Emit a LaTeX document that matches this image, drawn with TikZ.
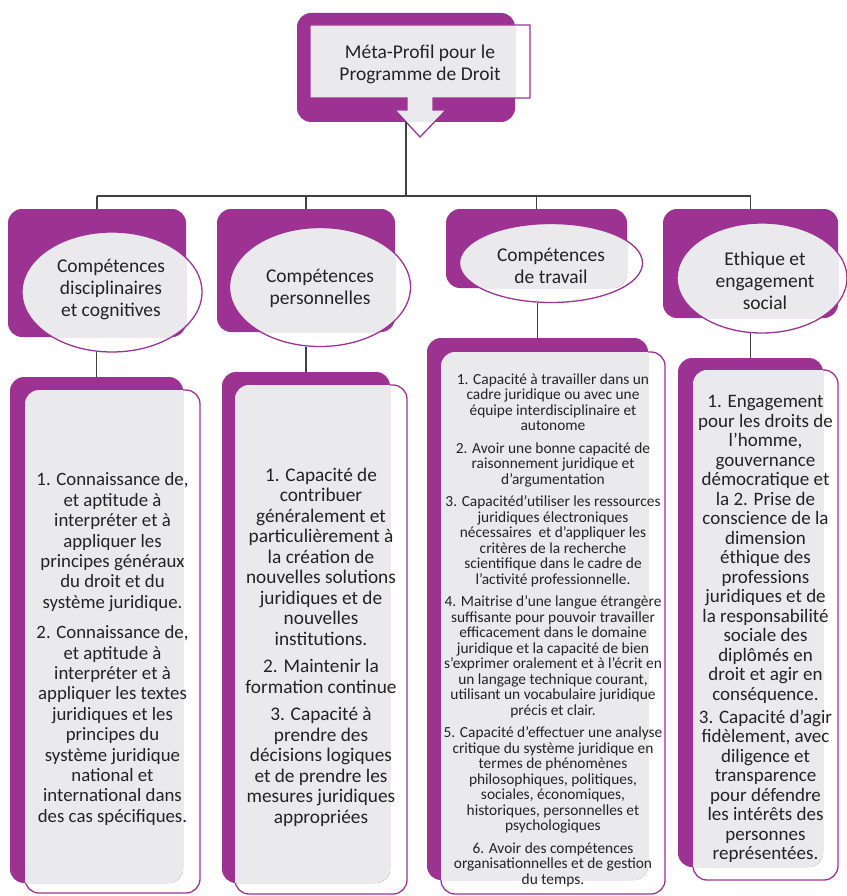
\documentclass[tikz,border=0pt]{standalone}
\usepackage{fontspec}
\setmainfont{Carlito}
\usetikzlibrary{shapes.geometric}
\definecolor{prune}{RGB}{156,50,146}
\definecolor{gris}{RGB}{234,234,236}
\definecolor{encre}{RGB}{35,35,35}
\definecolor{trait}{RGB}{64,64,64}
\newcommand{\titre}{\fontsize{19.5}{22}\selectfont}
\newcommand{\metaforme}{(310,25) -- (530,25) -- (530,98) -- (433,98) -- (433,110) -- (446,110) -- (420,137) -- (395,110) -- (407,110) -- (407,98) -- (310,98) -- cycle}
\tikzset{
  fond/.style={fill=prune, rounded corners=14pt, inner sep=0pt, outer sep=0pt},
  cadre/.style={draw=prune, line width=1.3pt, rounded corners=14pt, inner sep=0pt, outer sep=0pt},
  bulle/.style={ellipse, draw=prune, line width=1.3pt, inner sep=0pt, outer sep=0pt},
  lien/.style={draw=trait, line width=1.6pt},
  texte/.style={text=encre, align=center, inner sep=0pt}
}
\begin{document}
\begin{tikzpicture}[x=1pt, y=-1pt]
\useasboundingbox (0,0) rectangle (846,896);

\node[fond, minimum width=218, minimum height=109] (meta) at (406,67.5) {};
\begin{scope}
  \clip[rounded corners=14pt] (meta.south west) rectangle (meta.north east);
  \fill[gris] \metaforme;
\end{scope}
\draw[prune, line width=1.3pt] \metaforme;
\node[texte, font=\titre] (metatxt) at (420,64) {Méta-Profil pour le\\Programme de Droit};

\coordinate (bus) at (406,196);

\foreach \i/\hx/\hy/\hw/\hh/\ex/\ey/\ew/\eh in {1/97/273/178/128/112/292/180/120,
    2/306/270.5/178/123/320/287/181/119, 3/536.5/248.5/181/79/551/263/183/79,
    4/750.5/263.5/175/109/762/278/170/110}{
  \node[fond, minimum width=\hw, minimum height=\hh] (h\i) at (\hx,\hy) {};
  \begin{scope}
    \clip[rounded corners=14pt] (h\i.south west) rectangle (h\i.north east);
    \fill[gris] (\ex,\ey) ellipse [x radius=\ew/2, y radius=\eh/2];
  \end{scope}
  \node[bulle, minimum width=\ew, minimum height=\eh] (e\i) at (\ex,\ey) {};
}

\node[texte, font=\titre] (n1) at (111,290) {Compétences\\disciplinaires\\et cognitives};
\node[texte, font=\titre] (n2) at (320,288) {Compétences\\personnelles};
\node[texte, font=\titre] (n3) at (551,266) {Compétences\\de travail};
\node[texte, font=\titre] (n4) at (765,281) {Ethique et\\engagement\\social};

\foreach \i/\px/\py/\pw/\ph/\bx/\by/\bw/\bh in {1/96.5/630/173/506/112.5/641.5/175/503,
    2/306/627.5/168/511/321/639.5/172/509, 3/537.5/609/221/542/553/623/224/542,
    4/750.5/612.5/145/509/765.5/625/145/510}{
  \node[fond, minimum width=\pw, minimum height=\ph] (p\i) at (\px,\py) {};
  \node[cadre, minimum width=\bw, minimum height=\bh] (b\i) at (\bx,\by) {};
  \begin{scope}
    \clip[rounded corners=14pt] (p\i.south west) rectangle (p\i.north east);
    \fill[gris, rounded corners=14pt] (b\i.south west) rectangle (b\i.north east);
  \end{scope}
  \draw[lien] (p\i.north) -- (p\i.north |- e\i.south);
}

\draw[lien] (meta.south) -- (bus);
\draw[lien] (h1.north |- bus) -- (h4.north |- bus);
\foreach \i in {1,...,4}
  \draw[lien] (h\i.north |- bus) -- (h\i.north);

\node[texte, font=\fontsize{18.8}{20.4}\selectfont] (t1) at (112.5,649) {1. Connaissance de,\\et aptitude à\\interpréter et à\\appliquer les\\principes généraux\\du droit et du\\système juridique.\\[10pt]
  2. Connaissance de,\\et aptitude à\\interpréter et à\\appliquer les textes\\juridiques et les\\principes du\\système juridique\\national et\\international dans\\des cas spécifiques.};
\node[texte, font=\fontsize{19.3}{20.5}\selectfont] (t2) at (321,647) {1. Capacité de\\contribuer\\généralement et\\particulièrement à\\la création de\\nouvelles solutions\\juridiques et de\\nouvelles\\institutions.\\[7pt]
  2. Maintenir la\\formation continue\\[7pt]
  3. Capacité à\\prendre des\\décisions logiques\\et de prendre les\\mesures juridiques\\appropriées};
\node[texte, font=\fontsize{15.4}{15.5}\selectfont] (t3) at (553,630) {1. Capacité à travailler dans un\\cadre juridique ou avec une\\équipe interdisciplinaire et\\autonome\\[7pt]
  2. Avoir une bonne capacité de\\raisonnement juridique et\\d’argumentation\\[7pt]
  3. Capacitéd'utiliser les ressources\\juridiques électroniques\\nécessaires~ et d'appliquer les\\critères de la recherche\\scientifique dans le cadre de\\l'activité professionnelle.\\[7pt]
  4. Maitrise d'une langue étrangère\\suffisante pour pouvoir travailler\\efficacement dans le domaine\\juridique et la capacité de bien\\s’exprimer oralement et à l’écrit en\\un langage technique courant,\\utilisant un vocabulaire juridique\\précis et clair.\\[7pt]
  5. Capacité d’effectuer une analyse\\critique du système juridique en\\termes de phénomènes\\philosophiques, politiques,\\sociales, économiques,\\historiques, personnelles et\\psychologiques\\[7pt]
  6. Avoir des compétences\\organisationnelles et de gestion\\du temps.};
\node[texte, font=\fontsize{19}{19.5}\selectfont] (t4) at (765.5,629) {1. Engagement\\pour les droits de\\l’homme,\\gouvernance\\démocratique et\\la 2. Prise de\\conscience de la\\dimension\\éthique des\\professions\\juridiques et de\\la responsabilité\\sociale des\\diplômés en\\droit et agir en\\conséquence.\\[3.5pt]
  3. Capacité d'agir\\fidèlement, avec\\diligence et\\transparence\\pour défendre\\les intérêts des\\personnes\\représentées.};
\end{tikzpicture}
\end{document}
